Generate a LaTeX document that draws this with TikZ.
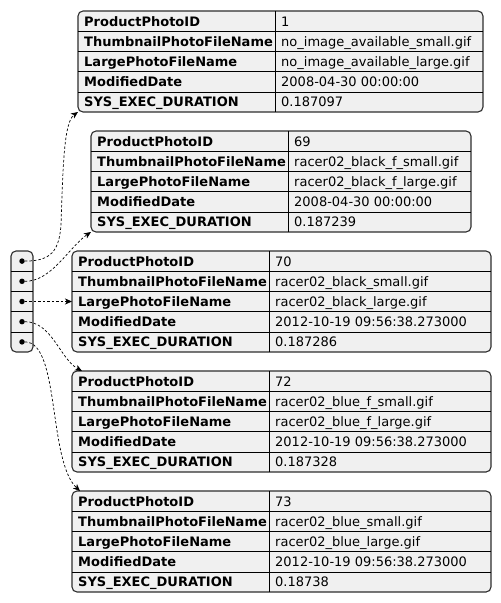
\documentclass[tikz,border=0pt]{standalone}
\usepackage{fontspec}
\setmainfont{DejaVu Sans}
\usetikzlibrary{arrows.meta}
\definecolor{cellfill}{RGB}{240,240,240}
\definecolor{framecol}{RGB}{45,45,45}
\tikzset{
  record/.style={draw=framecol, fill=cellfill, line width=1.1pt, rounded corners=5pt,
    inner sep=0pt, outer sep=0pt, anchor=north west, minimum height=101pt},
  rule/.style={draw=black, line width=0.6pt},
  keytext/.style={anchor=base west, inner sep=0pt, font=\fontsize{13}{15}\selectfont\bfseries},
  valtext/.style={anchor=base west, inner sep=0pt, font=\fontsize{13}{15}\selectfont},
  pointer/.style={draw=black, line width=0.7pt, dash pattern=on 2.5pt off 2pt,
    -{Stealth[length=7pt,width=6pt,inset=2pt]}},
  dot/.style={circle, fill=black, inner sep=0pt, minimum size=5.5pt},
}
% key column width and row height of a record table
\newcommand\keycol{197}
\newcommand\rowh{20.2}
% #1 name, #2 left, #3 top, #4 value column width, #5 the five values
\newcommand\photorecord[5]{%
  \node[record, minimum width={(\keycol+#4)*1pt}] (#1) at (#2,#3) {};
  \foreach \r in {1,...,4}
    \draw[rule] (#2,{#3+\rowh*\r}) -- ++(\keycol+#4,0);
  \draw[rule] (#2+\keycol,#3) -- ++(0,101);
  \foreach \k [count=\i] in {ProductPhotoID,ThumbnailPhotoFileName,LargePhotoFileName,ModifiedDate,SYS\_EXEC\_DURATION}
    \node[keytext] at (#2+6,{#3+\rowh*(\i-1)+15}) {\k};
  \foreach \v [count=\i] in {#5}
    \node[valtext] at (#2+\keycol+6,{#3+\rowh*(\i-1)+15}) {\v};
}
\begin{document}
\begin{tikzpicture}[x=1pt,y=-1pt]
\useasboundingbox (0,0) rectangle (501,603);

\photorecord{t1}{78}{11}{208}{1,no\_image\_available\_small.gif,no\_image\_available\_large.gif,2008-04-30 00:00:00,0.187097}
\photorecord{t2}{91}{131}{183}{69,racer02\_black\_f\_small.gif,racer02\_black\_f\_large.gif,2008-04-30 00:00:00,0.187239}
\photorecord{t3}{72}{251}{222}{70,racer02\_black\_small.gif,racer02\_black\_large.gif,2012-10-19 09:56:38.273000,0.187286}
\photorecord{t4}{72}{371}{222}{72,racer02\_blue\_f\_small.gif,racer02\_blue\_f\_large.gif,2012-10-19 09:56:38.273000,0.187328}
\photorecord{t5}{72}{491}{222}{73,racer02\_blue\_small.gif,racer02\_blue\_large.gif,2012-10-19 09:56:38.273000,0.18738}

% the array of pointers
\node[record, minimum width=22pt] (arr) at (11,251) {};
\foreach \r in {1,...,4}
  \draw[rule] (11,{251+\rowh*\r}) -- ++(22,0);
\foreach \i in {1,...,5}
  \node[dot] (p\i) at (22,{261.1+\rowh*(\i-1)}) {};

% pointers to the records
\coordinate (bend1) at (61,225);
\draw[pointer] (p1) .. controls +(30,0) and +(-2,25) .. (bend1)
  .. controls +(2,-60) and +(-14,10) .. (t1.south west);
\draw[pointer] (p2) .. controls +(30,0) and +(-22,15) .. (t2.south west);
\draw[pointer] (p3) -- (t3.west);
\draw[pointer] (p4) .. controls +(30,0) and +(-22,-12) .. ([xshift=10pt]t4.north west);
\draw[pointer] (p5) .. controls +(38,0) and +(-32,-30) .. ([xshift=8pt]t5.north west);
\end{tikzpicture}
\end{document}
